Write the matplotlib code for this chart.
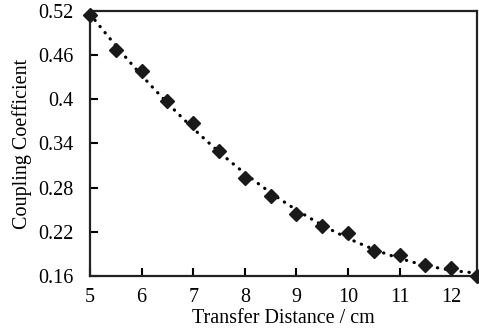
import matplotlib.pyplot as plt
import numpy as np

plt.rcParams['font.family'] = ['Liberation Serif', 'DejaVu Serif']

# data
distance = [5, 5.5, 6, 6.5, 7, 7.5, 8, 8.5, 9, 9.5, 10, 10.5, 11, 11.5, 12, 12.5]
coupling = [0.515, 0.467, 0.438, 0.398, 0.368, 0.330, 0.293, 0.269,
            0.244, 0.228, 0.218, 0.194, 0.188, 0.175, 0.171, 0.160]

x = np.array(distance)
y = np.array(coupling)

# polynomial trendline through the points
coef = np.polyfit(x, y, 2)
xs = np.linspace(5, 12.5, 200)
ys = np.polyval(coef, xs)

fig = plt.figure(figsize=(4.79, 3.36), dpi=100)
ax = fig.add_axes([90 / 479, 60 / 336, 387 / 479, 265 / 336])

ax.plot(xs, ys, color='black', linewidth=2.3,
        linestyle=(0, (0.1, 2.4)), dash_capstyle='round', zorder=2)
ax.plot(x, y, linestyle='none', marker='D', markersize=7,
        color='#1a1a1a', clip_on=False, zorder=3)

ax.set_xlim(5, 12.5)
ax.set_ylim(0.16, 0.52)
ax.set_xticks([5, 6, 7, 8, 9, 10, 11, 12])
ax.set_yticks([0.16, 0.22, 0.28, 0.34, 0.4, 0.46, 0.52])
ax.set_yticklabels(['0.16', '0.22', '0.28', '0.34', '0.4', '0.46', '0.52'])

for s in ax.spines.values():
    s.set_linewidth(1.6)
    s.set_color('#222222')

ax.tick_params(direction='in', length=6, width=1.5, labelsize=14.5,
               top=False, right=False, pad=12)
ax.tick_params(axis='x', pad=9)

ax.set_xlabel('Transfer Distance / cm', fontsize=14.5, labelpad=1)
ax.set_ylabel('Coupling Coefficient', fontsize=14.5, labelpad=4)

fig.savefig('out.png', dpi=100)
